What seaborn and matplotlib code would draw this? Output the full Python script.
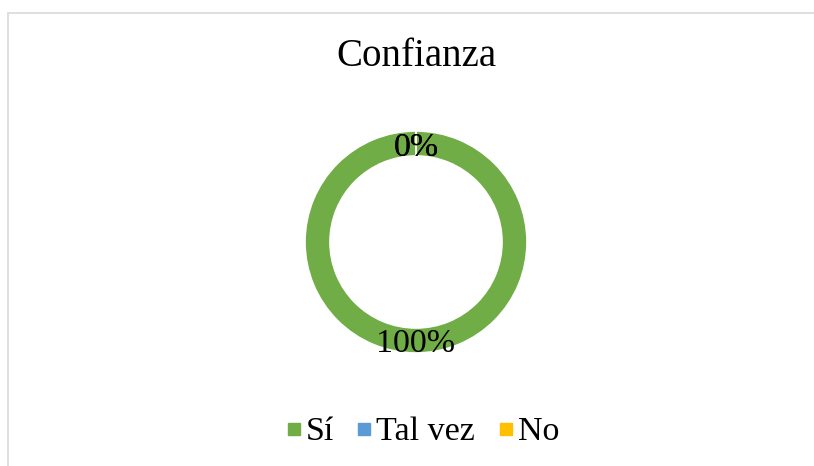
import numpy as np
import matplotlib
matplotlib.use("Agg")
import matplotlib.pyplot as plt
from matplotlib.lines import Line2D
from matplotlib.patches import Rectangle
import seaborn as sns

# --- data ---
categories = ["Sí", "Tal vez", "No"]
values = [100, 0, 0]
colors = ["#70AD47", "#5B9BD5", "#FFC000"]
title = "Confianza"

sns.set_theme(style="white")
plt.rcParams["font.family"] = ["Liberation Serif", "DejaVu Serif"]
plt.rcParams["text.color"] = "black"

W, H = 814, 466
fig = plt.figure(figsize=(W / 100, H / 100), dpi=100)
ax = fig.add_axes([0, 0, 1, 1])

# donut, centre and radius in pixel units
cx, cy, r = 416, H - 242, 111
wedges, texts, autotexts = ax.pie(
    values, colors=colors, startangle=90, counterclock=False,
    center=(cx, cy), radius=r, autopct="%1.0f%%", pctdistance=0.885,
    wedgeprops=dict(width=25, edgecolor="white", linewidth=1.2),
    textprops=dict(fontsize=24.5, color="black"),
)
# nudge the percentage labels down a little, like the original
for t in autotexts:
    x, y = t.get_position()
    t.set_position((x, y - 4))

ax.set_xlim(0, W)
ax.set_ylim(0, H)
ax.set_aspect("equal")
ax.axis("off")

# chart-area border
ax.add_patch(Rectangle((7.5, -10), W + 20, H - 12.5 + 10, fill=False,
                       edgecolor="#d9d9d9", linewidth=1.2))

ax.text(cx, H - 56, title, ha="center", va="center", fontsize=28, color="black")

handles = [Line2D([], [], marker="s", linestyle="none", markersize=8,
                  color=c) for c in colors]
fig.legend(handles, categories, loc="center", bbox_to_anchor=(422 / W, 1 - 432 / H),
           ncol=3, frameon=False, fontsize=24.5, handlelength=0.5,
           handletextpad=0.1, columnspacing=0.65, labelcolor="black")

fig.savefig("out.png", dpi=100)
